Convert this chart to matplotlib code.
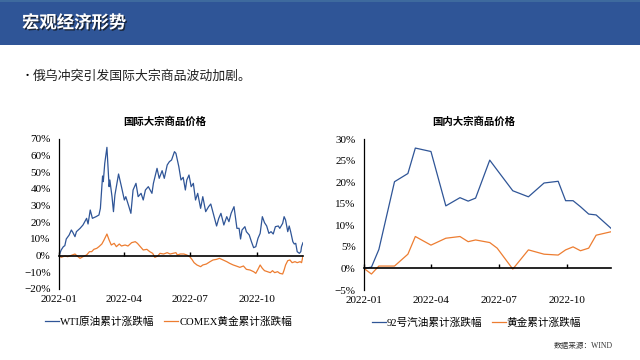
import numpy as np
import pandas as pd
import matplotlib
matplotlib.use('Agg')
import matplotlib.pyplot as plt
import matplotlib.dates as mdates
import matplotlib.patheffects as pe
from matplotlib.patches import Rectangle
from matplotlib.ticker import PercentFormatter, MultipleLocator

# --- data (days since 2022-01-01, cumulative change in %) ---
wti_day = [0, 3, 6, 8, 10, 14, 17, 19, 22, 24, 29, 33, 38, 40, 43, 46, 51, 55, 57, 60,
           61, 63, 66, 69, 70, 73, 75, 77, 82, 86, 90, 92, 96, 99, 102, 106, 109, 113,
           116, 119, 123, 128, 130, 135, 138, 142, 145, 149, 152, 155, 159, 161, 165,
           168, 171, 174, 176, 179, 182, 185, 188, 191, 195, 198, 202, 206, 209, 213,
           217, 220, 223, 227, 231, 234, 237, 241, 245, 248, 250, 252, 256, 258, 262,
           265, 268, 271, 274, 277, 280, 283, 286, 289, 292, 295, 298, 302, 304, 308,
           310, 312, 315, 317, 319, 322, 324, 326, 328, 331, 333, 334, 336]
wti_chg = [0, 3.4, 5.4, 6, 10, 12.4, 15.4, 14, 11.4, 14.4, 16.4, 18.4, 22.4, 19, 27.4,
           22.4, 23.4, 24.4, 28.4, 47.8, 44.4, 55.4, 65, 41.4, 45.4, 35.4, 26.4, 36.4,
           49, 41.4, 33.4, 35.4, 29.8, 25.4, 39.4, 43.4, 35.4, 37.4, 33.4, 39.4, 41.4,
           37.4, 43.4, 52.4, 46.4, 51, 46.4, 54.4, 56.4, 57.4, 62.4, 61.4, 53.4, 45.4,
           47, 39.4, 45.4, 48.4, 41.4, 43.4, 33.4, 37.4, 28.4, 35.4, 26.4, 29.4, 31,
           24.4, 17.8, 22.4, 25.4, 18.4, 23.4, 20.4, 25.4, 29.4, 16.4, 16.4, 10, 15.4,
           17.4, 14.4, 12.4, 8.4, 4.8, 5.4, 10.4, 13.4, 23.4, 19.8, 17.8, 13.4, 14.4,
           13, 17.4, 17.8, 16.4, 19.4, 23.4, 21.4, 14.4, 17.8, 14.4, 8.4, 7, 7.4, 2.4,
           1.4, 2.4, 5.4, 7.8]

gold_day = [0, 3, 8, 12, 17, 22, 25, 29, 33, 38, 42, 45, 48, 52, 55, 59, 62, 66, 69,
            72, 76, 79, 83, 86, 91, 95, 100, 105, 108, 112, 116, 121, 125, 129, 132,
            136, 139, 144, 149, 153, 157, 161, 163, 167, 172, 176, 180, 183, 186, 190,
            195, 198, 203, 208, 212, 217, 221, 226, 231, 235, 240, 244, 249, 254, 258,
            263, 268, 271, 274, 277, 280, 283, 287, 291, 294, 297, 301, 304, 308, 310,
            312, 315, 318, 321, 325, 328, 332, 334, 336]
gold_chg = [0, -1, -0.2, -0.6, 0.2, 1, -0.2, -1.6, -0.6, 0.4, 2.4, 2.4, 3.8, 4.4, 5.4,
            7, 9.4, 13, 9.4, 6.4, 7.4, 5.4, 7, 5.8, 6.4, 5.8, 7.8, 8.4, 7.4, 5.4, 3.4,
            3.8, 2.4, 1.4, -1, -0.2, 1.4, 1, 1.8, 1, 1.4, 1.8, 0.4, 1, 1, 0.4, -0.6,
            -2.2, -4.2, -5.6, -6.6, -5.6, -5, -3.6, -2.6, -2.2, -1.6, -2.6, -3.6, -4.6,
            -5.6, -6.2, -7, -6.2, -8.2, -8.6, -9.6, -10.6, -8.2, -5.6, -7.6, -9, -9.6,
            -10.2, -9, -10.2, -9.6, -10.6, -11, -8.6, -5.6, -3, -2.6, -4.2, -3.6, -4.2,
            -3.6, -4.2, -0.2]

cn_day = [0, 10, 20, 41, 59, 69, 90, 110, 129, 140, 150, 169, 179, 200, 221, 242, 261,
          271, 281, 291, 302, 312, 332]
gas92_chg = [0, 0.3, 4.4, 20.1, 22.0, 27.9, 27.1, 14.5, 16.4, 15.6, 16.3, 25.1, 22.8,
             18.0, 16.6, 19.8, 20.2, 15.7, 15.7, 14.3, 12.6, 12.4, 9.3]
cn_gold_chg = [0, -1.3, 0.55, 0.55, 3.3, 7.4, 5.4, 7.0, 7.4, 6.2, 6.6, 6.0, 4.7, -0.15,
               4.3, 3.3, 3.1, 4.3, 5.0, 4.1, 4.7, 7.7, 8.5]

start = pd.Timestamp('2022-01-01')
def to_dates(days):
    return start + pd.to_timedelta(days, unit='D')

BLUE = '#2F5597'
ORANGE = '#ED7D31'
SERIF = ['Liberation Serif', 'Noto Sans CJK SC']
CJK = ['Noto Sans CJK SC', 'DejaVu Sans']

fig = plt.figure(figsize=(6.4, 3.6), dpi=100)
fig.patch.set_facecolor('white')

# header bar
fig.add_artist(Rectangle((0, 1 - 45 / 360), 1, 45 / 360, transform=fig.transFigure,
                         facecolor='#2F5597', edgecolor='none'))
fig.add_artist(Rectangle((0, 1 - 2 / 360), 1, 2 / 360, transform=fig.transFigure,
                         facecolor='#3E6A9E', edgecolor='none'))
fig.text(22 / 640, 1 - 23 / 360, '宏观经济形势', family=CJK, fontsize=12.5, fontweight='bold',
         color='white', va='center', ha='left',
         path_effects=[pe.SimplePatchShadow(offset=(1, -1), shadow_rgbFace='#111111', alpha=0.7),
                       pe.Normal()])
fig.text(22 / 640, 1 - 76 / 360, '•', family=CJK, fontsize=8, va='center', ha='left')
fig.text(33 / 640, 1 - 76 / 360, '俄乌冲突引发国际大宗商品波动加剧。', family=CJK, fontsize=9.3,
         va='center', ha='left', color='#222222')
fig.text(613 / 640, 1 - 346 / 360, '数据来源：WIND', family=SERIF, fontsize=5.5,
         va='center', ha='right', color='#333333')


def style_axes(ax, ylim, ystep, series, leg_x):
    for d, v, c, lab in series:
        ax.plot(to_dates(d), v, color=c, lw=0.9, label=lab)
    ax.set_ylim(*ylim)
    ax.yaxis.set_major_locator(MultipleLocator(ystep))
    ax.yaxis.set_major_formatter(PercentFormatter(decimals=0))
    ax.set_xlim(to_dates([0])[0], to_dates([max(series[0][0])])[0])
    ax.spines['top'].set_visible(False)
    ax.spines['right'].set_visible(False)
    ax.spines['bottom'].set_position(('data', 0))
    ax.spines['bottom'].set_linewidth(1.2)
    ax.spines['left'].set_linewidth(0.9)
    ax.xaxis.set_major_locator(mdates.MonthLocator(bymonth=[1, 4, 7, 10]))
    ax.tick_params(axis='x', direction='in', length=3, width=1, labelbottom=False)
    ax.tick_params(axis='y', length=0, pad=6, labelsize=8)
    for t in ax.get_yticklabels():
        t.set_family(SERIF)
    # date labels at the bottom of the plot area
    sec = ax.secondary_xaxis('bottom')
    sec.spines['bottom'].set_visible(False)
    sec.xaxis.set_major_locator(mdates.MonthLocator(bymonth=[1, 4, 7, 10]))
    sec.xaxis.set_major_formatter(mdates.DateFormatter('%Y-%m'))
    sec.tick_params(length=0, pad=4, labelsize=8)
    for t in sec.get_xticklabels():
        t.set_family(SERIF)
    ax.legend(loc='upper center', bbox_to_anchor=(leg_x, -0.12), ncol=2, frameon=False,
              handlelength=1.3, handletextpad=0.1, columnspacing=0.9,
              prop={'family': SERIF, 'size': 7.7})
    return ax


ax1 = fig.add_axes([59 / 640, 1 - 289 / 360, 244 / 640, 150 / 360])
style_axes(ax1, (-20, 70), 10, [
    (wti_day, wti_chg, BLUE, 'WTI原油累计涨跌幅'),
    (gold_day, gold_chg, ORANGE, 'COMEX黄金累计涨跌幅'),
], 0.45)
fig.text(165 / 640, 1 - 122 / 360, '国际大宗商品价格', family=CJK, fontsize=7.5,
         fontweight='bold', ha='center', va='center')

ax2 = fig.add_axes([364 / 640, 1 - 290 / 360, 247 / 640, 151 / 360])
style_axes(ax2, (-5, 30), 5, [
    (cn_day, gas92_chg, BLUE, '92号汽油累计涨跌幅'),
    (cn_day, cn_gold_chg, ORANGE, '黄金累计涨跌幅'),
], 0.455)
fig.text(474 / 640, 1 - 122 / 360, '国内大宗商品价格', family=CJK, fontsize=7.5,
         fontweight='bold', ha='center', va='center')

fig.savefig('out.png', dpi=100, facecolor='white')
